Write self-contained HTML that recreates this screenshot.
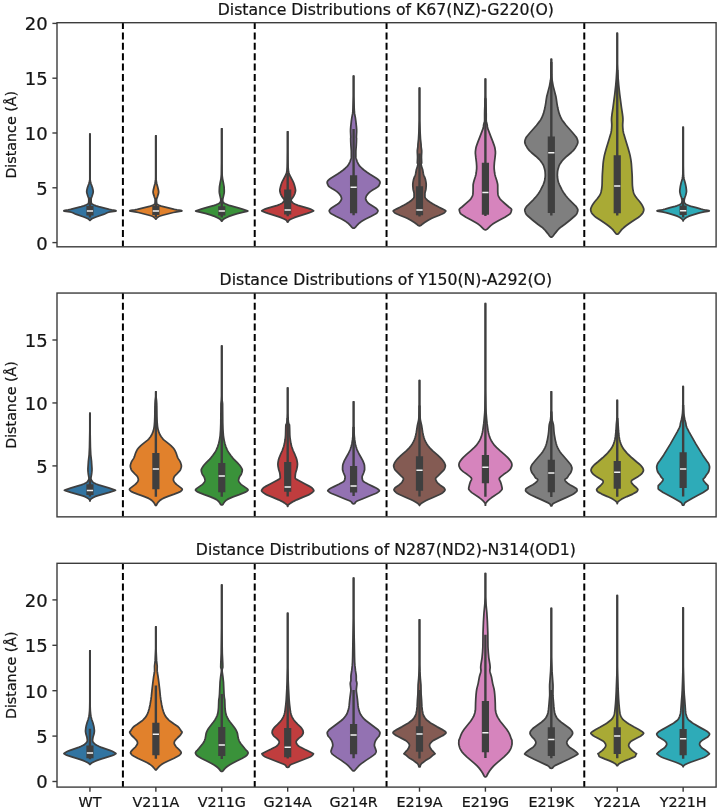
<!DOCTYPE html>
<html><head><meta charset="utf-8"><title>Distance Distributions</title>
<style>html,body{margin:0;padding:0;background:#fff}svg{display:block}text{stroke:#141414;stroke-width:.22px}</style></head>
<body>
<svg width="720" height="811" viewBox="0 0 720 811" font-family="'DejaVu Sans', 'Liberation Sans', sans-serif" fill="#141414">
<rect width="720" height="811" fill="#fff"/>
<g>
<clipPath id="c0"><rect x="57.0" y="22.7" width="659.10" height="224.10"/></clipPath>
<g clip-path="url(#c0)">
<line x1="89.95" x2="89.95" y1="133.30" y2="183.55" stroke="#3f3f3f" stroke-width="1.9"/>
<path d="M63.83,210.86 63.87,210.94 64.17,211.12 69.92,211.84 71.38,212.23 72.82,212.77 74.80,213.76 75.79,214.18 83.94,216.97 86.37,217.99 88.07,218.82 88.98,219.47 89.67,220.29 89.95,220.34 90.24,220.29 90.93,219.47 91.84,218.82 93.54,217.99 95.97,216.97 104.12,214.18 105.11,213.76 107.09,212.77 108.53,212.23 109.99,211.84 115.74,211.12 116.06,210.91 116.08,210.86 116.00,210.76 115.68,210.60 114.89,210.41 111.63,209.90 109.35,209.40 98.65,206.65 96.07,205.89 94.90,205.43 93.05,204.55 92.03,203.91 91.54,203.41 91.34,203.08 91.10,201.06 91.11,198.82 91.35,197.98 91.93,196.51 92.94,193.33 93.17,192.20 93.19,191.34 93.01,189.96 92.41,187.55 90.95,183.51 90.39,181.26 90.08,179.55 90.08,134.23 89.95,134.20 89.83,134.23 89.83,179.55 89.52,181.26 88.96,183.51 87.50,187.55 86.90,189.96 86.72,191.34 86.74,192.20 86.97,193.33 87.98,196.51 88.56,197.98 88.80,198.82 88.81,201.06 88.57,203.08 88.37,203.41 87.88,203.91 86.86,204.55 85.01,205.43 83.84,205.89 81.26,206.65 70.56,209.40 68.22,209.91 65.02,210.41 64.23,210.60 63.91,210.76Z" fill="#3274a1" stroke="#3f3f3f" stroke-width="1.75" stroke-linejoin="round"/>
<line x1="89.95" x2="89.95" y1="197.5" y2="217.5" stroke="#3f3f3f" stroke-width="2.4"/>
<line x1="89.95" x2="89.95" y1="205.9" y2="215.5" stroke="#3f3f3f" stroke-width="7.2"/>
<line x1="86.86" x2="93.05" y1="211.1" y2="211.1" stroke="#f4f4f4" stroke-width="1.5"/>
<line x1="155.87" x2="155.87" y1="135.10" y2="183.91" stroke="#3f3f3f" stroke-width="1.9"/>
<path d="M129.89,210.85 129.95,210.95 130.29,211.15 130.65,211.24 135.13,211.83 138.43,212.50 149.14,215.25 151.67,216.01 152.89,216.55 154.09,217.39 155.30,218.47 155.60,218.88 155.71,219.12 155.87,219.15 156.02,219.12 156.13,218.88 156.43,218.47 157.64,217.39 158.84,216.55 160.06,216.01 162.59,215.25 173.30,212.50 176.60,211.83 181.08,211.24 181.44,211.15 181.78,210.95 181.84,210.85 181.45,210.60 180.85,210.46 176.96,209.97 174.41,209.46 167.34,207.60 161.22,206.18 159.83,205.69 158.09,204.82 157.22,204.19 156.99,203.94 156.72,203.47 156.65,203.20 156.45,201.45 156.47,199.65 156.68,198.79 157.42,196.82 158.42,193.63 158.60,192.74 158.65,191.87 158.56,190.98 158.38,190.04 157.66,187.07 156.69,183.50 156.25,181.00 156.03,179.13 155.99,177.60 155.99,136.03 155.87,136.00 155.74,136.03 155.74,177.60 155.70,179.13 155.48,181.00 155.04,183.50 154.07,187.07 153.35,190.04 153.17,190.98 153.08,191.87 153.13,192.74 153.31,193.63 154.31,196.82 155.05,198.79 155.26,199.65 155.28,201.45 155.08,203.20 155.01,203.47 154.74,203.94 154.51,204.19 153.64,204.82 151.90,205.69 150.51,206.18 144.39,207.60 137.32,209.46 134.77,209.97 130.88,210.46 130.28,210.60Z" fill="#e1812c" stroke="#3f3f3f" stroke-width="1.75" stroke-linejoin="round"/>
<line x1="155.87" x2="155.87" y1="198" y2="217" stroke="#3f3f3f" stroke-width="2.4"/>
<line x1="155.87" x2="155.87" y1="205.8" y2="215.0" stroke="#3f3f3f" stroke-width="7.2"/>
<line x1="152.77" x2="158.97" y1="211.05" y2="211.05" stroke="#f4f4f4" stroke-width="1.5"/>
<line x1="221.77" x2="221.77" y1="128.00" y2="179.33" stroke="#3f3f3f" stroke-width="1.9"/>
<path d="M195.70,211.03 196.00,211.19 196.70,211.40 201.15,212.31 206.28,213.66 211.10,215.16 215.26,216.68 217.97,217.96 219.77,218.99 220.76,219.85 220.96,220.11 221.52,221.22 221.77,221.26 222.03,221.22 222.59,220.11 222.79,219.85 223.78,218.99 225.58,217.96 228.29,216.68 232.45,215.16 237.27,213.66 242.40,212.31 246.85,211.40 247.55,211.19 247.85,211.03 247.42,210.81 242.33,209.08 238.24,207.84 229.23,205.34 227.63,204.81 225.19,203.81 224.21,203.26 224.00,203.09 223.41,202.40 222.90,201.40 222.82,201.15 222.69,200.25 222.79,199.17 223.97,193.83 224.17,192.64 224.24,191.72 224.23,190.27 224.11,187.56 224.00,186.37 223.36,182.66 222.57,178.86 222.22,176.11 222.07,174.26 221.90,162.75 221.90,128.93 221.77,128.90 221.65,128.93 221.65,162.75 221.48,174.26 221.33,176.11 220.98,178.86 220.19,182.66 219.55,186.37 219.44,187.56 219.32,190.27 219.31,191.72 219.38,192.64 219.58,193.83 220.76,199.17 220.86,200.25 220.73,201.15 220.65,201.40 220.14,202.40 219.55,203.09 219.34,203.26 218.36,203.81 215.92,204.81 214.32,205.34 205.31,207.84 201.22,209.08 196.13,210.81Z" fill="#3a923a" stroke="#3f3f3f" stroke-width="1.75" stroke-linejoin="round"/>
<line x1="221.77" x2="221.77" y1="198" y2="217.5" stroke="#3f3f3f" stroke-width="2.4"/>
<line x1="221.77" x2="221.77" y1="206.3" y2="215.4" stroke="#3f3f3f" stroke-width="7.2"/>
<line x1="218.67" x2="224.87" y1="210.9" y2="210.9" stroke="#f4f4f4" stroke-width="1.5"/>
<line x1="287.69" x2="287.69" y1="131.00" y2="171.75" stroke="#3f3f3f" stroke-width="1.9"/>
<path d="M261.74,210.86 261.92,210.99 262.89,211.45 265.90,212.68 268.06,213.42 279.08,216.92 281.17,217.69 284.18,218.94 285.69,219.73 286.43,220.34 286.75,220.79 287.24,221.98 287.69,222.08 288.13,221.98 288.62,220.79 288.94,220.34 289.68,219.73 291.19,218.94 294.20,217.69 296.29,216.92 307.31,213.42 309.47,212.68 312.48,211.45 313.45,210.99 313.63,210.86 313.46,210.70 312.33,210.02 310.43,209.06 308.36,208.33 304.11,207.05 297.95,205.34 295.33,204.31 293.78,203.53 292.90,202.90 291.71,201.75 291.37,201.25 291.18,200.80 291.12,200.47 291.14,199.97 291.22,199.64 291.44,199.14 293.12,197.01 294.05,195.35 294.62,194.16 294.95,193.24 295.40,191.57 295.53,190.69 295.52,190.07 295.34,188.91 294.78,186.47 294.37,185.01 293.79,183.30 293.42,182.34 292.85,181.14 289.48,174.77 288.89,172.93 288.39,170.57 288.07,166.77 287.94,161.76 287.81,150.75 287.81,131.93 287.69,131.90 287.56,131.93 287.56,150.75 287.43,161.77 287.30,166.77 286.98,170.57 286.48,172.93 285.89,174.77 282.52,181.14 281.95,182.34 281.58,183.30 281.00,185.01 280.59,186.47 280.03,188.91 279.85,190.07 279.84,190.69 279.97,191.57 280.42,193.24 280.75,194.16 281.32,195.35 282.25,197.01 283.93,199.14 284.15,199.64 284.23,199.97 284.25,200.47 284.19,200.80 284.00,201.25 283.66,201.75 282.47,202.90 281.59,203.53 280.04,204.31 277.42,205.34 271.26,207.05 267.01,208.33 264.94,209.06 263.04,210.02 261.91,210.70Z" fill="#c03d3e" stroke="#3f3f3f" stroke-width="1.75" stroke-linejoin="round"/>
<line x1="287.69" x2="287.69" y1="172.7" y2="216.2" stroke="#3f3f3f" stroke-width="2.4"/>
<line x1="287.69" x2="287.69" y1="189.4" y2="214.6" stroke="#3f3f3f" stroke-width="7.2"/>
<line x1="284.58" x2="290.79" y1="209.9" y2="209.9" stroke="#f4f4f4" stroke-width="1.5"/>
<line x1="353.59" x2="353.59" y1="75.32" y2="112.32" stroke="#3f3f3f" stroke-width="1.9"/>
<path d="M353.16,228.21 354.03,228.21 354.16,228.10 354.64,227.89 355.03,227.63 355.46,227.23 356.27,226.22 358.65,223.72 359.80,222.68 360.94,221.83 362.97,220.56 365.61,219.06 370.76,216.54 375.39,214.06 376.13,213.60 376.68,213.18 377.01,212.80 377.43,212.15 377.84,211.29 377.95,210.69 377.89,210.41 377.54,209.85 376.44,208.63 375.72,208.03 369.83,204.31 368.74,203.53 368.10,202.98 366.77,201.37 366.08,200.29 365.73,199.36 365.68,199.09 365.66,198.34 365.70,198.08 366.08,196.74 366.39,195.99 366.74,195.38 367.88,193.95 369.37,192.45 370.65,191.39 372.14,190.35 373.93,189.25 375.28,188.57 376.76,187.60 377.72,186.89 378.46,186.23 378.93,185.61 379.58,184.24 379.94,183.13 380.03,182.37 379.88,181.62 379.59,181.08 379.02,180.44 377.42,179.01 376.03,178.05 369.57,174.06 366.97,172.29 363.91,169.98 361.89,168.23 360.48,166.92 359.78,166.17 359.13,165.36 357.87,163.27 357.02,161.34 356.10,158.50 355.92,157.66 355.84,156.82 355.85,150.82 356.28,145.27 356.44,141.54 356.51,138.19 356.38,137.87 356.36,137.31 356.63,131.80 356.62,129.35 356.42,126.65 355.83,121.18 355.34,117.71 354.58,113.73 354.36,111.94 354.17,108.35 353.72,96.10 353.72,76.25 353.59,76.22 353.47,76.25 353.47,96.10 353.02,108.35 352.83,111.94 352.61,113.73 351.85,117.71 351.36,121.18 350.77,126.65 350.57,129.35 350.56,131.80 350.83,137.31 350.81,137.87 350.68,138.19 350.75,141.54 350.91,145.27 351.34,150.82 351.35,156.82 351.27,157.66 351.09,158.50 350.17,161.34 349.32,163.27 348.06,165.36 347.41,166.17 346.71,166.92 345.30,168.23 343.28,169.98 340.22,172.29 337.62,174.06 331.16,178.05 329.77,179.01 328.17,180.44 327.60,181.08 327.31,181.62 327.16,182.37 327.25,183.13 327.61,184.24 328.26,185.61 328.73,186.23 329.47,186.89 330.43,187.60 331.91,188.57 333.26,189.25 335.05,190.35 336.54,191.39 337.82,192.45 339.31,193.95 340.45,195.38 340.80,195.99 341.11,196.74 341.49,198.08 341.53,198.34 341.51,199.09 341.46,199.36 341.11,200.29 340.42,201.37 339.09,202.98 338.45,203.53 337.36,204.31 331.47,208.03 330.75,208.63 329.65,209.85 329.30,210.41 329.24,210.69 329.35,211.29 329.76,212.15 330.18,212.80 330.51,213.18 331.06,213.60 331.80,214.06 336.43,216.54 341.58,219.06 344.22,220.56 346.30,221.87 347.39,222.68 348.54,223.72 350.92,226.22 351.73,227.23 352.16,227.63 352.55,227.89 353.03,228.10Z" fill="#9372b2" stroke="#3f3f3f" stroke-width="1.75" stroke-linejoin="round"/>
<line x1="353.59" x2="353.59" y1="128.9" y2="215.3" stroke="#3f3f3f" stroke-width="2.4"/>
<line x1="353.59" x2="353.59" y1="175.3" y2="213.3" stroke="#3f3f3f" stroke-width="7.2"/>
<line x1="350.49" x2="356.69" y1="187.2" y2="187.2" stroke="#f4f4f4" stroke-width="1.5"/>
<line x1="419.50" x2="419.50" y1="87.31" y2="136.06" stroke="#3f3f3f" stroke-width="1.9"/>
<path d="M393.18,210.83 393.22,211.02 393.39,211.35 393.68,211.75 394.75,212.88 395.38,213.30 396.86,214.01 400.31,215.50 405.44,217.49 407.65,218.55 410.83,220.32 414.45,222.57 416.43,223.95 417.98,225.35 418.31,225.54 418.77,225.72 419.50,225.90 420.24,225.72 420.70,225.54 421.03,225.35 422.58,223.95 424.56,222.57 428.18,220.32 431.36,218.55 433.57,217.49 438.70,215.50 442.15,214.01 443.63,213.30 444.26,212.88 445.33,211.75 445.62,211.35 445.79,211.02 445.83,210.83 445.45,210.55 442.24,208.84 438.62,207.08 434.84,205.08 432.59,203.80 429.83,202.05 428.05,200.77 426.37,199.20 425.31,197.97 425.05,197.47 424.91,197.01 424.91,193.41 425.11,192.32 425.66,190.35 425.86,189.43 426.16,186.26 426.19,184.11 425.96,182.20 425.42,179.53 424.79,177.61 424.29,176.37 423.89,175.59 423.70,175.02 423.32,173.47 422.58,169.53 421.42,166.09 421.12,164.59 421.13,163.84 421.22,163.61 421.67,163.15 421.44,157.57 421.47,156.01 421.66,152.53 421.67,150.85 421.59,149.91 421.15,146.94 421.04,144.13 420.48,139.11 420.13,132.85 419.63,120.60 419.63,88.24 419.50,88.21 419.38,88.24 419.38,120.60 418.88,132.85 418.53,139.11 417.97,144.13 417.86,146.94 417.42,149.91 417.34,150.85 417.35,152.53 417.54,156.01 417.57,157.57 417.34,163.15 417.79,163.61 417.88,163.84 417.89,164.59 417.59,166.09 416.43,169.53 415.69,173.47 415.31,175.02 415.12,175.59 414.72,176.37 414.22,177.61 413.59,179.53 413.05,182.20 412.82,184.11 412.85,186.26 413.15,189.43 413.35,190.35 413.90,192.32 414.10,193.41 414.10,197.01 413.96,197.47 413.70,197.97 412.64,199.20 410.96,200.77 409.18,202.05 406.42,203.80 404.17,205.08 400.39,207.08 396.77,208.84 393.56,210.55Z" fill="#845b53" stroke="#3f3f3f" stroke-width="1.75" stroke-linejoin="round"/>
<line x1="419.50" x2="419.50" y1="153.5" y2="216.6" stroke="#3f3f3f" stroke-width="2.4"/>
<line x1="419.50" x2="419.50" y1="186.3" y2="215.3" stroke="#3f3f3f" stroke-width="7.2"/>
<line x1="416.40" x2="422.61" y1="210.1" y2="210.1" stroke="#f4f4f4" stroke-width="1.5"/>
<line x1="485.41" x2="485.41" y1="78.30" y2="111.80" stroke="#3f3f3f" stroke-width="1.9"/>
<path d="M485.41,79.20 485.29,79.23 485.29,95.80 484.70,110.32 484.63,114.80 484.66,120.04 484.60,120.86 484.39,122.02 483.69,124.72 483.56,125.62 483.53,126.74 483.22,128.11 479.80,137.11 478.02,141.61 476.77,145.08 476.08,147.26 475.73,149.18 475.42,151.61 475.40,153.51 475.83,157.70 476.43,162.49 476.69,166.24 476.66,168.89 476.23,172.76 475.93,174.46 475.24,177.03 474.26,180.05 473.70,182.02 473.20,184.18 473.11,185.34 473.08,191.35 472.97,193.35 472.82,194.65 472.48,195.81 471.84,197.17 470.93,198.74 470.18,199.67 469.14,200.70 466.03,203.47 461.93,206.97 459.75,208.68 459.31,209.22 459.25,209.43 459.28,209.95 459.44,210.85 459.71,211.77 460.14,212.90 460.51,213.49 461.19,214.12 462.51,215.08 465.97,217.29 471.64,220.29 475.63,222.54 477.71,223.80 479.16,224.84 480.39,225.88 482.64,228.04 483.67,229.14 483.90,229.30 484.73,229.73 485.41,229.90 486.10,229.73 486.93,229.30 487.16,229.14 488.19,228.04 490.44,225.88 491.67,224.84 493.12,223.80 495.20,222.54 499.19,220.29 504.86,217.29 508.32,215.08 509.64,214.12 510.32,213.49 510.69,212.90 511.12,211.77 511.39,210.85 511.55,209.95 511.58,209.43 511.52,209.22 511.08,208.68 508.90,206.97 504.80,203.47 501.69,200.70 500.65,199.67 499.90,198.74 498.99,197.17 498.35,195.81 498.01,194.65 497.86,193.35 497.75,191.35 497.72,185.34 497.63,184.18 497.13,182.02 496.57,180.05 495.59,177.03 494.90,174.46 494.60,172.76 494.17,168.89 494.14,166.24 494.40,162.49 495.00,157.70 495.43,153.51 495.41,151.61 495.10,149.18 494.75,147.26 494.06,145.08 492.81,141.61 491.03,137.11 487.61,128.11 487.30,126.74 487.27,125.62 487.14,124.72 486.44,122.02 486.23,120.86 486.17,120.04 486.20,114.80 486.13,110.32 485.54,95.80 485.54,79.23Z" fill="#d684bd" stroke="#3f3f3f" stroke-width="1.75" stroke-linejoin="round"/>
<line x1="485.41" x2="485.41" y1="98.3" y2="215.9" stroke="#3f3f3f" stroke-width="2.4"/>
<line x1="485.41" x2="485.41" y1="162.7" y2="214.7" stroke="#3f3f3f" stroke-width="7.2"/>
<line x1="482.31" x2="488.51" y1="192.5" y2="192.5" stroke="#f4f4f4" stroke-width="1.5"/>
<line x1="551.33" x2="551.33" y1="58.40" y2="80.90" stroke="#3f3f3f" stroke-width="1.9"/>
<path d="M550.99,237.09 551.33,237.12 551.66,237.09 551.85,236.91 552.56,236.46 552.99,236.05 553.57,235.36 554.82,233.60 557.02,230.85 558.18,229.53 559.51,228.22 561.09,226.94 564.84,224.20 568.63,221.22 570.45,219.73 575.35,215.52 576.22,214.60 576.66,213.97 577.16,212.83 577.58,211.65 577.74,210.98 577.85,209.95 577.80,209.62 577.48,208.78 576.36,206.89 575.84,206.21 575.19,205.51 569.15,199.52 567.50,197.74 565.83,195.70 564.29,193.63 563.17,191.94 562.10,190.09 559.36,184.54 558.42,182.23 558.06,180.85 557.62,178.30 557.41,176.43 557.35,174.85 557.52,171.85 557.73,170.46 558.08,168.90 558.99,165.90 559.50,164.78 560.15,163.66 561.03,162.38 562.22,160.78 563.51,159.32 566.81,156.23 571.27,152.50 573.20,150.55 574.49,149.10 575.49,147.69 577.18,144.54 577.69,143.16 577.81,142.53 577.85,142.01 577.76,141.05 577.47,139.90 576.88,138.25 576.42,137.36 575.56,136.19 572.66,132.72 566.05,125.23 563.11,121.39 561.92,119.64 560.99,118.00 559.98,115.70 559.15,113.39 558.34,110.59 557.63,107.30 557.00,103.80 556.29,98.79 555.94,96.84 553.11,85.87 552.10,80.27 551.74,77.52 551.55,74.91 551.45,66.01 551.45,59.33 551.33,59.30 551.20,59.33 551.20,66.01 551.10,74.91 550.91,77.52 550.55,80.27 549.54,85.87 546.71,96.84 546.36,98.79 545.65,103.80 545.02,107.30 544.31,110.59 543.50,113.39 542.67,115.70 541.66,118.00 540.73,119.64 539.54,121.39 536.60,125.23 529.99,132.72 527.09,136.19 526.23,137.36 525.77,138.25 525.18,139.90 524.89,141.05 524.80,142.01 524.84,142.53 524.96,143.16 525.47,144.54 527.16,147.69 528.16,149.10 529.45,150.55 531.38,152.50 535.84,156.23 539.09,159.26 540.43,160.78 541.62,162.38 542.53,163.71 543.11,164.71 543.62,165.78 544.59,168.96 544.92,170.46 545.12,171.77 545.30,174.93 545.24,176.50 545.04,178.25 544.59,180.85 544.26,182.12 543.29,184.54 540.55,190.09 539.48,191.94 538.34,193.67 536.82,195.70 535.18,197.70 533.50,199.52 527.46,205.51 526.81,206.21 526.29,206.89 525.17,208.78 524.85,209.62 524.81,210.33 524.91,210.98 525.07,211.65 525.49,212.83 525.99,213.97 526.43,214.60 527.30,215.52 532.20,219.73 534.02,221.22 537.81,224.20 541.56,226.94 543.21,228.28 544.47,229.53 545.63,230.85 547.83,233.60 549.08,235.36 549.66,236.05 550.09,236.46 550.80,236.91Z" fill="#7f7f7f" stroke="#3f3f3f" stroke-width="1.75" stroke-linejoin="round"/>
<line x1="551.33" x2="551.33" y1="62" y2="215.4" stroke="#3f3f3f" stroke-width="2.4"/>
<line x1="551.33" x2="551.33" y1="136.6" y2="213.0" stroke="#3f3f3f" stroke-width="7.2"/>
<line x1="548.23" x2="554.43" y1="152.7" y2="152.7" stroke="#f4f4f4" stroke-width="1.5"/>
<line x1="617.24" x2="617.24" y1="32.46" y2="76.96" stroke="#3f3f3f" stroke-width="1.9"/>
<path d="M617.24,33.36 617.11,33.39 617.11,63.71 616.74,71.76 616.33,78.51 615.78,85.03 614.72,94.56 613.04,107.32 612.05,113.83 611.69,116.79 611.57,118.50 611.53,120.19 611.78,124.16 611.79,125.71 611.66,128.05 611.36,130.88 611.11,132.18 610.71,133.70 609.10,139.22 606.28,148.46 605.16,152.43 604.36,155.65 603.71,159.11 603.34,161.57 603.09,163.79 602.40,174.01 602.28,176.49 602.15,183.23 602.03,185.75 601.66,189.06 601.11,191.70 600.75,192.95 600.41,193.85 599.87,194.92 599.10,196.17 597.46,198.53 594.70,201.75 593.27,203.71 592.35,205.15 591.50,206.83 591.01,207.99 590.79,208.84 590.68,209.68 590.74,210.31 590.90,210.95 591.41,212.36 591.75,213.01 592.21,213.68 592.79,214.37 594.52,216.07 595.31,216.79 596.21,217.49 600.51,220.22 603.86,222.49 606.37,224.24 608.72,226.03 610.85,227.78 612.59,229.43 613.45,230.43 616.03,233.78 616.55,234.12 617.24,234.22 617.92,234.12 618.44,233.78 621.02,230.43 621.88,229.43 623.62,227.78 625.75,226.03 628.10,224.24 630.61,222.49 633.96,220.22 638.26,217.49 639.16,216.79 639.95,216.07 641.68,214.37 642.26,213.68 642.72,213.01 643.06,212.36 643.57,210.95 643.73,210.31 643.79,209.68 643.68,208.84 643.46,207.99 642.97,206.83 642.12,205.15 641.20,203.71 639.77,201.75 637.01,198.53 635.37,196.17 634.60,194.92 634.06,193.85 633.72,192.95 633.36,191.70 632.81,189.06 632.44,185.75 632.32,183.23 632.19,176.49 632.07,174.01 631.38,163.79 631.13,161.57 630.76,159.11 630.11,155.65 629.31,152.43 628.19,148.46 625.37,139.22 623.76,133.70 623.36,132.18 623.11,130.88 622.81,128.05 622.68,125.71 622.69,124.16 622.94,120.19 622.90,118.50 622.78,116.79 622.42,113.83 621.43,107.32 619.75,94.56 618.69,85.03 618.14,78.51 617.73,71.76 617.36,63.71 617.36,33.39Z" fill="#a9aa35" stroke="#3f3f3f" stroke-width="1.75" stroke-linejoin="round"/>
<line x1="617.24" x2="617.24" y1="70" y2="215.5" stroke="#3f3f3f" stroke-width="2.4"/>
<line x1="617.24" x2="617.24" y1="155.3" y2="213.3" stroke="#3f3f3f" stroke-width="7.2"/>
<line x1="614.13" x2="620.34" y1="186.1" y2="186.1" stroke="#f4f4f4" stroke-width="1.5"/>
<line x1="683.14" x2="683.14" y1="126.50" y2="179.25" stroke="#3f3f3f" stroke-width="1.9"/>
<path d="M683.14,127.40 683.02,127.43 683.02,166.00 682.84,174.52 682.63,176.63 682.28,178.88 681.16,182.72 680.40,186.16 679.96,189.10 679.81,190.79 679.81,191.45 679.91,192.36 680.42,194.61 680.68,195.46 681.54,197.69 681.99,199.55 682.18,201.10 682.09,201.85 682.02,202.12 681.71,202.74 681.32,203.31 680.90,203.81 680.42,204.20 678.79,205.03 676.80,205.81 675.04,206.35 670.09,207.59 665.08,209.09 663.12,209.60 661.73,209.91 658.59,210.36 657.44,210.59 657.15,210.73 657.02,210.87 657.15,211.01 657.46,211.16 658.78,211.38 662.25,211.85 665.87,212.66 668.59,213.41 674.26,215.16 676.54,215.93 677.82,216.43 679.00,216.99 679.93,217.53 681.39,218.53 682.31,219.35 682.82,219.94 683.00,220.30 683.02,220.97 683.14,220.99 683.27,220.97 683.29,220.30 683.47,219.94 683.98,219.35 684.90,218.53 686.36,217.53 687.29,216.99 688.47,216.43 689.75,215.93 692.03,215.16 697.70,213.41 700.42,212.66 704.04,211.85 707.51,211.38 708.83,211.16 709.14,211.01 709.27,210.87 709.14,210.73 708.85,210.59 707.70,210.36 704.56,209.91 703.17,209.60 701.21,209.09 696.20,207.59 691.25,206.35 689.49,205.81 687.50,205.03 685.87,204.20 685.39,203.81 684.97,203.31 684.58,202.74 684.27,202.12 684.20,201.85 684.11,201.10 684.30,199.55 684.75,197.69 685.61,195.46 685.87,194.61 686.38,192.36 686.48,191.45 686.48,190.79 686.33,189.10 685.89,186.16 685.13,182.72 684.01,178.88 683.66,176.63 683.45,174.52 683.27,166.00 683.27,127.43Z" fill="#2eabb8" stroke="#3f3f3f" stroke-width="1.75" stroke-linejoin="round"/>
<line x1="683.14" x2="683.14" y1="198" y2="217.5" stroke="#3f3f3f" stroke-width="2.4"/>
<line x1="683.14" x2="683.14" y1="205.6" y2="215.0" stroke="#3f3f3f" stroke-width="7.2"/>
<line x1="680.04" x2="686.25" y1="210.7" y2="210.7" stroke="#f4f4f4" stroke-width="1.5"/>
<line x1="122.91" x2="122.91" y1="22.00" y2="246.8" stroke="#000" stroke-width="2" stroke-dasharray="7 3.4"/>
<line x1="254.73" x2="254.73" y1="22.00" y2="246.8" stroke="#000" stroke-width="2" stroke-dasharray="7 3.4"/>
<line x1="386.55" x2="386.55" y1="22.00" y2="246.8" stroke="#000" stroke-width="2" stroke-dasharray="7 3.4"/>
<line x1="584.28" x2="584.28" y1="22.00" y2="246.8" stroke="#000" stroke-width="2" stroke-dasharray="7 3.4"/>
</g>
<rect x="57.0" y="22.7" width="659.10" height="224.10" fill="none" stroke="#3c3c3c" stroke-width="1.4"/>
<line x1="52.4" x2="57.0" y1="242.60" y2="242.60" stroke="#3c3c3c" stroke-width="1.4"/>
<text x="47.7" y="249.50" font-size="18" text-anchor="end">0</text>
<line x1="52.4" x2="57.0" y1="187.80" y2="187.80" stroke="#3c3c3c" stroke-width="1.4"/>
<text x="47.7" y="194.70" font-size="18" text-anchor="end">5</text>
<line x1="52.4" x2="57.0" y1="133.00" y2="133.00" stroke="#3c3c3c" stroke-width="1.4"/>
<text x="47.7" y="139.90" font-size="18" text-anchor="end">10</text>
<line x1="52.4" x2="57.0" y1="78.20" y2="78.20" stroke="#3c3c3c" stroke-width="1.4"/>
<text x="47.7" y="85.10" font-size="18" text-anchor="end">15</text>
<line x1="52.4" x2="57.0" y1="23.40" y2="23.40" stroke="#3c3c3c" stroke-width="1.4"/>
<text x="47.7" y="30.30" font-size="18" text-anchor="end">20</text>
<text x="385.85" y="14.60" font-size="15.7" text-anchor="middle">Distance Distributions of K67(NZ)-G220(O)</text>
<text transform="translate(16.2,134.75) rotate(-90)" font-size="14.25" text-anchor="middle">Distance (Å)</text>
</g>
<g>
<clipPath id="c1"><rect x="57.0" y="293.05" width="659.10" height="223.80"/></clipPath>
<g clip-path="url(#c1)">
<line x1="89.95" x2="89.95" y1="412.50" y2="454.50" stroke="#3f3f3f" stroke-width="1.9"/>
<path d="M64.42,490.31 65.33,490.68 70.70,492.41 82.04,495.66 83.64,496.17 84.98,496.68 87.03,497.72 88.75,498.87 89.68,499.80 89.78,500.01 89.81,500.24 89.82,500.91 89.95,500.91 90.09,500.91 90.10,500.24 90.13,500.01 90.23,499.80 91.16,498.87 92.88,497.72 94.93,496.68 96.27,496.17 97.87,495.66 109.21,492.41 114.58,490.68 115.49,490.31 114.97,490.05 113.69,489.57 108.64,487.83 98.50,484.84 96.23,484.04 94.17,483.04 92.97,482.22 92.77,482.04 91.80,480.79 91.11,479.45 90.94,478.70 90.93,477.73 91.50,474.62 91.81,472.16 91.97,470.21 91.97,468.53 91.48,461.08 90.76,454.79 90.39,447.29 90.08,430.50 90.08,413.43 89.95,413.40 89.83,413.43 89.83,430.50 89.52,447.29 89.15,454.79 88.43,461.08 87.94,468.53 87.94,470.21 88.10,472.16 88.41,474.62 88.98,477.73 88.97,478.70 88.80,479.45 88.11,480.79 87.14,482.04 86.94,482.22 85.74,483.04 83.68,484.04 81.41,484.84 71.27,487.83 66.22,489.57 64.94,490.05Z" fill="#3274a1" stroke="#3f3f3f" stroke-width="1.75" stroke-linejoin="round"/>
<line x1="89.95" x2="89.95" y1="479.3" y2="496.6" stroke="#3f3f3f" stroke-width="2.4"/>
<line x1="89.95" x2="89.95" y1="484.2" y2="495.1" stroke="#3f3f3f" stroke-width="7.2"/>
<line x1="86.86" x2="93.05" y1="490.4" y2="490.4" stroke="#f4f4f4" stroke-width="1.5"/>
<line x1="155.87" x2="155.87" y1="390.95" y2="402.70" stroke="#3f3f3f" stroke-width="1.9"/>
<path d="M155.54,505.44 155.87,505.51 156.19,505.44 156.48,505.02 156.85,504.21 157.60,502.99 158.27,502.09 158.96,501.32 159.75,500.57 161.59,499.18 163.05,498.40 165.42,497.39 168.62,496.13 174.24,494.13 178.08,492.64 179.74,491.92 180.49,491.49 181.78,490.35 182.18,489.81 182.23,489.65 182.09,488.98 181.82,488.58 181.31,488.13 176.73,484.65 175.47,483.49 174.49,482.24 173.95,481.44 173.54,480.56 173.40,479.84 173.43,479.13 173.64,478.24 174.17,476.88 174.55,476.24 175.34,475.32 176.88,473.83 179.45,471.13 180.16,470.23 180.48,469.61 181.19,467.48 181.35,466.60 181.39,465.96 181.34,465.32 181.15,464.43 180.34,462.04 179.87,461.14 178.41,458.86 177.70,457.54 177.25,456.46 176.38,453.74 175.82,452.30 174.91,450.36 174.06,448.96 172.89,447.54 170.93,445.60 169.49,444.38 164.44,440.35 163.55,439.54 162.63,438.54 161.20,436.75 160.15,435.08 159.15,432.99 158.42,430.90 157.93,428.86 157.56,426.80 157.36,425.02 157.11,421.77 156.91,416.71 156.71,403.74 156.49,400.53 156.00,396.56 155.99,391.88 155.87,391.85 155.74,391.88 155.73,396.56 155.24,400.53 155.02,403.74 154.82,416.71 154.62,421.77 154.37,425.02 154.17,426.80 153.80,428.86 153.31,430.90 152.58,432.99 151.58,435.08 150.53,436.75 149.10,438.54 148.18,439.54 147.29,440.35 142.24,444.38 140.80,445.60 138.84,447.54 137.67,448.96 136.82,450.36 135.91,452.30 135.35,453.74 134.48,456.46 134.03,457.54 133.32,458.86 131.86,461.14 131.39,462.04 130.58,464.43 130.39,465.32 130.34,465.96 130.38,466.60 130.54,467.48 131.25,469.61 131.57,470.23 132.28,471.13 134.85,473.83 136.39,475.32 137.18,476.24 137.56,476.88 138.09,478.24 138.30,479.13 138.33,479.84 138.19,480.56 137.78,481.44 137.24,482.24 136.26,483.49 135.00,484.65 130.42,488.13 129.91,488.58 129.64,488.98 129.50,489.65 129.55,489.81 129.95,490.35 131.24,491.49 131.99,491.92 133.65,492.64 137.49,494.13 143.11,496.13 146.31,497.39 148.68,498.40 150.14,499.18 151.98,500.57 152.77,501.32 153.46,502.09 154.13,502.99 154.88,504.21 155.25,505.02Z" fill="#e1812c" stroke="#3f3f3f" stroke-width="1.75" stroke-linejoin="round"/>
<line x1="155.87" x2="155.87" y1="406" y2="496.7" stroke="#3f3f3f" stroke-width="2.4"/>
<line x1="155.87" x2="155.87" y1="453.0" y2="489.3" stroke="#3f3f3f" stroke-width="7.2"/>
<line x1="152.77" x2="158.97" y1="469.0" y2="469.0" stroke="#f4f4f4" stroke-width="1.5"/>
<line x1="221.77" x2="221.77" y1="345.20" y2="404.20" stroke="#3f3f3f" stroke-width="1.9"/>
<path d="M195.48,489.96 195.56,490.15 196.19,490.81 197.00,491.47 198.24,492.16 199.94,492.89 204.37,494.63 210.55,496.90 214.01,498.40 216.09,499.41 217.53,500.38 218.75,501.58 219.96,503.17 220.50,504.25 220.74,504.58 221.11,504.85 221.77,504.92 222.44,504.85 222.81,504.58 223.05,504.25 223.59,503.17 224.80,501.58 226.02,500.38 227.46,499.41 229.54,498.40 233.00,496.90 239.18,494.63 243.61,492.89 245.31,492.16 246.55,491.47 247.36,490.81 247.99,490.15 248.07,489.96 247.62,489.21 247.28,488.84 246.74,488.40 241.35,484.59 240.75,484.02 239.88,483.02 239.27,482.24 238.91,481.65 238.66,481.00 238.60,480.73 238.60,479.79 238.76,478.94 239.14,477.69 239.70,476.56 240.95,474.73 241.32,474.09 241.93,472.21 242.15,471.29 242.27,470.39 242.27,469.80 242.14,469.23 241.86,468.59 241.46,467.90 240.39,466.19 239.70,465.25 237.05,462.31 234.01,459.33 232.84,458.04 230.79,455.45 228.48,452.14 227.85,451.07 226.98,449.35 225.80,446.54 224.85,443.46 224.14,440.35 223.66,437.60 223.35,435.32 222.95,429.51 222.74,422.96 222.56,403.99 222.48,403.05 222.09,400.24 221.90,395.99 221.90,346.13 221.77,346.10 221.65,346.13 221.65,395.99 221.46,400.24 221.07,403.05 220.99,403.99 220.81,422.96 220.60,429.51 220.20,435.32 219.89,437.60 219.41,440.35 218.70,443.46 217.75,446.54 216.57,449.35 215.70,451.07 215.07,452.14 212.76,455.45 210.71,458.04 209.54,459.33 206.50,462.31 203.85,465.25 203.16,466.19 202.09,467.90 201.69,468.59 201.41,469.23 201.28,469.80 201.28,470.39 201.40,471.29 201.62,472.21 202.23,474.09 202.60,474.73 203.85,476.56 204.41,477.69 204.79,478.94 204.95,479.79 204.95,480.73 204.89,481.00 204.64,481.65 204.28,482.24 203.67,483.02 202.80,484.02 202.20,484.59 196.81,488.40 196.27,488.84 195.93,489.21Z" fill="#3a923a" stroke="#3f3f3f" stroke-width="1.75" stroke-linejoin="round"/>
<line x1="221.77" x2="221.77" y1="419" y2="496.7" stroke="#3f3f3f" stroke-width="2.4"/>
<line x1="221.77" x2="221.77" y1="463.0" y2="492.3" stroke="#3f3f3f" stroke-width="7.2"/>
<line x1="218.67" x2="224.87" y1="476.0" y2="476.0" stroke="#f4f4f4" stroke-width="1.5"/>
<line x1="287.69" x2="287.69" y1="387.13" y2="423.63" stroke="#3f3f3f" stroke-width="1.9"/>
<path d="M287.69,388.03 287.56,388.06 287.56,413.13 287.35,417.92 286.98,422.40 286.69,423.27 286.00,424.68 285.89,425.12 285.77,427.66 285.57,435.07 285.40,437.23 285.10,439.73 284.49,443.52 283.81,446.16 282.32,450.49 280.43,454.72 278.96,458.41 278.55,459.84 278.17,461.78 277.96,463.21 277.91,464.60 278.07,466.25 278.63,469.16 279.57,472.11 279.83,473.17 280.15,475.84 280.24,477.63 280.21,477.91 280.07,478.30 279.75,478.70 278.79,479.36 276.70,480.41 270.23,483.90 265.27,486.64 264.11,487.36 263.50,487.80 263.05,488.22 262.14,489.37 261.67,490.20 261.57,490.66 261.64,490.93 262.09,491.54 263.10,492.45 265.02,493.89 265.86,494.35 267.45,495.08 272.35,497.08 278.68,499.83 281.79,501.34 284.43,502.87 286.27,504.16 286.92,504.76 287.38,505.35 287.51,505.60 287.56,506.41 287.69,506.43 287.81,506.41 287.86,505.60 287.99,505.35 288.45,504.76 289.10,504.16 290.94,502.87 293.58,501.34 296.69,499.83 303.02,497.08 307.92,495.08 309.51,494.35 310.35,493.89 312.27,492.45 313.28,491.54 313.73,490.93 313.80,490.66 313.70,490.20 313.23,489.37 312.32,488.22 311.87,487.80 311.26,487.36 310.10,486.64 305.14,483.90 298.67,480.41 296.58,479.36 295.62,478.70 295.30,478.30 295.16,477.91 295.13,477.63 295.22,475.84 295.54,473.17 295.80,472.11 296.74,469.16 297.30,466.25 297.46,464.60 297.41,463.21 297.20,461.78 296.82,459.84 296.41,458.41 294.94,454.72 293.05,450.49 291.56,446.16 290.88,443.52 290.27,439.73 289.97,437.23 289.80,435.07 289.60,427.66 289.48,425.12 289.37,424.68 288.68,423.27 288.39,422.40 288.02,417.92 287.81,413.13 287.81,388.06Z" fill="#c03d3e" stroke="#3f3f3f" stroke-width="1.75" stroke-linejoin="round"/>
<line x1="287.69" x2="287.69" y1="418" y2="496.6" stroke="#3f3f3f" stroke-width="2.4"/>
<line x1="287.69" x2="287.69" y1="462.0" y2="491.8" stroke="#3f3f3f" stroke-width="7.2"/>
<line x1="284.58" x2="290.79" y1="487.0" y2="487.0" stroke="#f4f4f4" stroke-width="1.5"/>
<line x1="353.59" x2="353.59" y1="401.06" y2="437.56" stroke="#3f3f3f" stroke-width="1.9"/>
<path d="M353.59,401.96 353.47,401.99 353.47,425.35 353.18,431.85 352.90,436.12 352.53,439.65 352.00,443.19 351.66,444.79 351.18,446.57 350.48,448.82 349.99,450.12 348.28,453.75 346.27,457.24 344.28,460.93 343.14,463.84 342.87,464.77 342.75,465.42 342.59,467.84 342.60,469.72 342.78,470.58 343.49,472.74 344.63,475.28 344.97,476.28 345.07,476.93 345.06,477.93 344.93,478.77 344.66,479.83 344.38,480.60 343.95,481.22 343.28,481.79 342.51,482.29 338.79,484.33 334.47,486.35 331.06,488.08 329.80,488.80 329.17,489.24 328.18,490.16 327.84,490.56 327.79,490.68 327.84,490.81 328.38,491.43 329.82,492.58 330.61,493.03 331.65,493.50 335.42,495.00 345.00,499.00 349.47,500.78 350.57,501.34 351.35,501.90 351.74,502.34 352.30,503.24 352.63,503.53 352.91,503.71 353.59,503.79 354.28,503.71 354.56,503.53 354.89,503.24 355.45,502.34 355.84,501.90 356.62,501.34 357.72,500.78 362.19,499.00 371.77,495.00 375.54,493.50 376.58,493.03 377.37,492.58 378.81,491.43 379.35,490.81 379.40,490.68 379.35,490.56 379.01,490.16 378.02,489.24 377.39,488.80 376.13,488.08 372.72,486.35 368.40,484.33 364.68,482.29 363.91,481.79 363.24,481.22 362.81,480.60 362.53,479.83 362.26,478.77 362.13,477.93 362.12,476.93 362.22,476.28 362.56,475.28 363.70,472.74 364.41,470.58 364.59,469.72 364.60,467.84 364.44,465.42 364.32,464.77 364.05,463.84 362.91,460.93 360.92,457.24 358.91,453.75 357.20,450.12 356.71,448.82 356.01,446.57 355.53,444.79 355.19,443.19 354.66,439.65 354.29,436.12 354.01,431.85 353.72,425.35 353.72,401.99Z" fill="#9372b2" stroke="#3f3f3f" stroke-width="1.75" stroke-linejoin="round"/>
<line x1="353.59" x2="353.59" y1="427" y2="496.0" stroke="#3f3f3f" stroke-width="2.4"/>
<line x1="353.59" x2="353.59" y1="466.1" y2="492.4" stroke="#3f3f3f" stroke-width="7.2"/>
<line x1="350.49" x2="356.69" y1="485.9" y2="485.9" stroke="#f4f4f4" stroke-width="1.5"/>
<line x1="419.50" x2="419.50" y1="379.73" y2="419.92" stroke="#3f3f3f" stroke-width="1.9"/>
<path d="M419.50,380.63 419.38,380.66 419.38,410.23 419.16,414.28 418.91,417.55 418.73,419.32 418.56,420.37 417.41,425.39 416.38,432.16 415.74,435.16 415.04,437.71 414.33,439.77 413.47,441.65 412.22,443.90 410.97,445.79 409.24,447.84 406.57,450.59 401.62,454.88 398.73,457.60 397.35,459.05 395.63,461.24 394.73,462.64 393.83,464.76 393.69,465.37 393.66,465.66 393.76,466.57 393.99,467.46 394.64,469.11 394.97,469.73 395.75,470.63 401.00,475.85 402.64,477.33 403.13,477.95 403.27,478.22 403.46,478.94 403.28,479.92 402.73,481.11 402.09,482.06 401.19,483.06 399.13,484.96 395.76,487.18 395.26,487.61 395.03,487.87 394.29,488.93 394.09,489.33 393.97,489.67 393.97,489.99 394.20,490.51 394.92,491.38 396.18,492.58 396.73,493.01 397.45,493.47 399.39,494.44 406.07,497.43 410.73,499.44 413.39,500.72 415.99,502.22 417.59,503.29 418.29,503.84 419.10,504.59 419.25,504.77 419.35,504.99 419.38,505.51 419.50,505.53 419.63,505.51 419.66,504.99 419.76,504.77 419.91,504.59 420.72,503.84 421.42,503.29 423.02,502.22 425.62,500.72 428.28,499.44 432.94,497.43 439.62,494.44 441.56,493.47 442.28,493.01 442.83,492.58 444.09,491.38 444.81,490.51 445.04,489.99 445.04,489.67 444.92,489.33 444.72,488.93 443.98,487.87 443.75,487.61 443.25,487.18 439.88,484.96 437.82,483.06 436.92,482.06 436.28,481.11 435.73,479.92 435.55,478.94 435.74,478.22 435.88,477.95 436.37,477.33 438.01,475.85 443.26,470.63 444.04,469.73 444.37,469.11 445.02,467.46 445.25,466.57 445.35,465.66 445.32,465.37 445.18,464.76 444.28,462.64 443.38,461.24 441.66,459.05 440.28,457.60 437.39,454.88 432.44,450.59 429.77,447.84 428.04,445.79 426.79,443.90 425.54,441.65 424.68,439.77 423.97,437.71 423.27,435.16 422.63,432.16 421.60,425.39 420.45,420.37 420.28,419.32 420.10,417.55 419.85,414.28 419.63,410.23 419.63,380.66Z" fill="#845b53" stroke="#3f3f3f" stroke-width="1.75" stroke-linejoin="round"/>
<line x1="419.50" x2="419.50" y1="405.5" y2="496.6" stroke="#3f3f3f" stroke-width="2.4"/>
<line x1="419.50" x2="419.50" y1="456.3" y2="490.7" stroke="#3f3f3f" stroke-width="7.2"/>
<line x1="416.40" x2="422.61" y1="470.2" y2="470.2" stroke="#f4f4f4" stroke-width="1.5"/>
<line x1="485.41" x2="485.41" y1="302.80" y2="414.80" stroke="#3f3f3f" stroke-width="1.9"/>
<path d="M485.41,303.70 485.29,303.73 485.29,389.80 484.97,407.57 484.75,412.87 484.23,419.14 483.76,423.67 482.82,430.42 482.43,432.47 482.00,434.26 481.45,436.09 480.82,437.88 480.29,439.19 479.67,440.44 478.04,443.07 476.30,445.40 474.38,447.44 470.59,450.96 466.25,454.70 463.31,457.42 461.93,458.87 460.32,461.03 459.50,462.43 459.26,463.06 459.09,463.74 458.96,464.42 458.91,464.98 459.02,465.86 459.38,466.98 460.14,468.60 460.79,469.47 461.77,470.40 463.50,471.85 467.07,474.33 470.01,476.61 471.00,477.57 471.33,478.07 471.45,478.35 471.58,478.98 471.46,479.71 471.37,479.96 470.46,481.66 470.12,482.58 469.52,484.53 468.83,487.46 468.71,488.36 468.70,488.93 468.78,489.21 469.12,489.81 469.67,490.48 471.01,491.92 471.81,492.60 479.48,497.83 480.86,498.89 482.62,500.44 484.09,501.94 485.05,503.30 485.25,503.79 485.29,504.05 485.29,505.23 485.41,505.23 485.54,505.23 485.54,504.05 485.58,503.79 485.78,503.30 486.74,501.94 488.21,500.44 489.97,498.89 491.35,497.83 499.02,492.60 499.82,491.92 501.16,490.48 501.71,489.81 502.05,489.21 502.13,488.93 502.12,488.36 502.00,487.46 501.31,484.53 500.71,482.58 500.37,481.66 499.46,479.96 499.37,479.71 499.25,478.98 499.38,478.35 499.50,478.07 499.83,477.57 500.82,476.61 503.76,474.33 507.33,471.85 509.06,470.40 510.04,469.47 510.69,468.60 511.45,466.98 511.81,465.86 511.92,464.98 511.87,464.42 511.74,463.74 511.57,463.06 511.33,462.43 510.51,461.03 508.90,458.87 507.52,457.42 504.58,454.70 500.24,450.96 496.45,447.44 494.53,445.40 492.79,443.07 491.16,440.44 490.54,439.19 490.01,437.88 489.38,436.09 488.83,434.26 488.40,432.47 488.01,430.42 487.07,423.67 486.60,419.14 486.08,412.87 485.86,407.57 485.54,389.80 485.54,303.73Z" fill="#d684bd" stroke="#3f3f3f" stroke-width="1.75" stroke-linejoin="round"/>
<line x1="485.41" x2="485.41" y1="413" y2="496.7" stroke="#3f3f3f" stroke-width="2.4"/>
<line x1="485.41" x2="485.41" y1="455.0" y2="483.3" stroke="#3f3f3f" stroke-width="7.2"/>
<line x1="482.31" x2="488.51" y1="467.3" y2="467.3" stroke="#f4f4f4" stroke-width="1.5"/>
<line x1="551.33" x2="551.33" y1="390.95" y2="420.20" stroke="#3f3f3f" stroke-width="1.9"/>
<path d="M550.97,505.90 551.33,505.95 551.68,505.90 551.95,505.54 552.23,504.77 552.51,504.27 552.70,504.04 553.40,503.45 554.24,502.95 560.84,499.91 566.46,497.41 571.63,494.92 573.42,493.95 574.45,493.25 576.45,491.58 576.95,490.99 577.07,490.69 576.99,489.83 576.81,488.98 576.54,488.62 575.95,488.18 573.12,486.46 569.82,484.72 568.42,483.87 565.93,481.74 565.34,480.99 565.01,480.27 564.96,479.99 564.96,479.51 565.16,479.12 565.71,478.72 566.64,478.28 567.24,477.65 567.70,476.98 568.79,475.16 570.32,473.19 570.76,472.53 571.25,471.40 571.77,469.75 571.94,468.65 571.91,467.83 571.69,466.97 571.04,465.36 570.80,464.89 570.36,464.22 567.30,460.51 561.47,453.77 559.88,451.65 558.54,449.40 557.50,447.35 556.74,445.46 556.10,443.40 555.19,439.60 554.31,434.56 553.92,431.26 553.60,426.78 553.40,424.84 553.14,423.66 552.30,420.69 552.01,418.78 551.72,415.50 551.45,410.95 551.45,391.88 551.33,391.85 551.20,391.88 551.20,410.95 550.93,415.50 550.64,418.78 550.35,420.69 549.51,423.66 549.25,424.84 549.05,426.78 548.73,431.26 548.34,434.56 547.46,439.60 546.55,443.40 545.91,445.46 545.15,447.35 544.11,449.40 542.77,451.65 541.18,453.77 535.35,460.51 532.29,464.22 531.85,464.89 531.61,465.36 530.96,466.97 530.74,467.83 530.71,468.65 530.88,469.75 531.40,471.40 531.89,472.53 532.33,473.19 533.86,475.16 534.95,476.98 535.41,477.65 536.01,478.28 536.94,478.72 537.49,479.12 537.69,479.51 537.69,479.99 537.64,480.27 537.31,480.99 536.72,481.74 534.23,483.87 532.83,484.72 529.53,486.46 526.70,488.18 526.11,488.62 525.84,488.98 525.66,489.83 525.58,490.69 525.70,490.99 526.20,491.58 528.20,493.25 529.23,493.95 531.02,494.92 536.19,497.41 541.81,499.91 548.32,502.91 549.25,503.45 549.95,504.04 550.14,504.27 550.49,504.92 550.70,505.54Z" fill="#7f7f7f" stroke="#3f3f3f" stroke-width="1.75" stroke-linejoin="round"/>
<line x1="551.33" x2="551.33" y1="411.5" y2="497.0" stroke="#3f3f3f" stroke-width="2.4"/>
<line x1="551.33" x2="551.33" y1="459.7" y2="492.3" stroke="#3f3f3f" stroke-width="7.2"/>
<line x1="548.23" x2="554.43" y1="473.1" y2="473.1" stroke="#f4f4f4" stroke-width="1.5"/>
<line x1="617.24" x2="617.24" y1="399.62" y2="424.12" stroke="#3f3f3f" stroke-width="1.9"/>
<path d="M617.24,400.52 617.11,400.55 617.11,417.37 616.38,424.44 615.99,430.95 615.72,433.98 615.35,436.98 614.92,439.52 614.32,441.84 613.53,444.15 612.73,446.06 611.68,447.88 610.02,450.18 607.96,452.68 606.15,454.51 602.64,457.78 598.03,461.78 594.65,464.53 593.90,465.23 593.06,466.18 592.11,467.37 591.58,468.24 591.12,469.58 591.01,470.33 591.09,470.89 591.43,471.72 592.43,473.34 593.03,473.98 594.18,474.92 596.25,476.39 601.74,479.67 602.58,480.34 603.06,481.03 603.16,481.48 603.16,481.80 603.05,482.30 602.72,483.01 602.08,483.90 600.61,485.54 598.00,487.75 596.97,488.91 596.71,489.28 596.64,489.49 596.68,489.92 596.89,490.50 597.36,491.34 597.72,491.70 598.31,492.13 601.82,494.08 607.56,496.58 611.24,498.33 613.12,499.35 615.37,500.90 616.39,501.77 617.00,502.44 617.11,502.87 617.11,503.50 617.24,503.50 617.36,503.50 617.36,502.87 617.47,502.44 618.08,501.77 619.10,500.90 621.35,499.35 623.23,498.33 626.91,496.58 632.65,494.08 636.16,492.13 636.75,491.70 637.11,491.34 637.58,490.50 637.79,489.92 637.83,489.49 637.76,489.28 637.50,488.91 636.47,487.75 633.86,485.54 632.39,483.90 631.75,483.01 631.42,482.30 631.31,481.80 631.31,481.48 631.41,481.03 631.89,480.34 632.73,479.67 638.22,476.39 640.29,474.92 641.44,473.98 642.04,473.34 643.04,471.72 643.38,470.89 643.46,470.33 643.35,469.58 642.89,468.24 642.36,467.37 641.41,466.18 640.57,465.23 639.82,464.53 636.44,461.78 631.83,457.78 628.32,454.51 626.51,452.68 624.45,450.18 622.79,447.88 621.74,446.06 620.94,444.15 620.15,441.84 619.55,439.52 619.12,436.98 618.75,433.98 618.48,430.95 618.09,424.44 617.36,417.37 617.36,400.55Z" fill="#a9aa35" stroke="#3f3f3f" stroke-width="1.75" stroke-linejoin="round"/>
<line x1="617.24" x2="617.24" y1="418" y2="496.7" stroke="#3f3f3f" stroke-width="2.4"/>
<line x1="617.24" x2="617.24" y1="461.0" y2="488.8" stroke="#3f3f3f" stroke-width="7.2"/>
<line x1="614.13" x2="620.34" y1="472.2" y2="472.2" stroke="#f4f4f4" stroke-width="1.5"/>
<line x1="683.14" x2="683.14" y1="385.70" y2="415.45" stroke="#3f3f3f" stroke-width="1.9"/>
<path d="M683.14,386.60 683.02,386.63 683.02,406.45 682.60,413.01 682.24,415.61 681.56,419.22 680.51,423.14 680.34,424.07 680.21,425.29 679.93,426.42 679.20,428.11 677.11,432.11 670.46,443.91 663.71,454.91 659.90,460.45 658.23,462.69 657.81,463.37 657.52,464.00 656.93,465.69 656.78,466.34 656.72,467.01 656.79,468.10 657.04,469.51 657.54,471.41 657.81,472.04 658.40,472.95 660.15,475.25 661.44,477.43 662.20,478.26 662.84,478.65 663.07,479.03 663.10,479.25 662.93,480.14 662.82,480.42 662.11,481.51 660.43,483.51 658.57,485.27 658.24,485.78 658.22,488.61 658.33,488.93 658.66,489.32 659.50,489.99 663.18,492.45 668.38,495.18 673.91,498.18 679.96,501.69 681.04,502.50 681.61,503.12 681.98,503.83 682.30,504.82 682.48,505.10 683.14,505.25 683.81,505.10 683.99,504.82 684.31,503.83 684.68,503.12 685.25,502.50 686.33,501.69 692.38,498.18 697.91,495.18 703.11,492.45 706.79,489.99 707.63,489.32 707.96,488.93 708.07,488.61 708.05,485.78 707.72,485.27 705.86,483.51 704.18,481.51 703.47,480.42 703.36,480.14 703.19,479.25 703.22,479.03 703.45,478.65 704.09,478.26 704.85,477.43 706.14,475.25 707.89,472.95 708.48,472.04 708.75,471.41 709.25,469.51 709.50,468.10 709.57,467.01 709.51,466.34 709.36,465.69 708.77,464.00 708.48,463.37 708.06,462.69 706.39,460.45 702.58,454.91 695.83,443.91 689.18,432.11 687.09,428.11 686.36,426.42 686.08,425.29 685.95,424.07 685.78,423.14 684.73,419.22 684.05,415.61 683.69,413.01 683.27,406.45 683.27,386.63Z" fill="#2eabb8" stroke="#3f3f3f" stroke-width="1.75" stroke-linejoin="round"/>
<line x1="683.14" x2="683.14" y1="405" y2="496.4" stroke="#3f3f3f" stroke-width="2.4"/>
<line x1="683.14" x2="683.14" y1="452.3" y2="487.9" stroke="#3f3f3f" stroke-width="7.2"/>
<line x1="680.04" x2="686.25" y1="469.0" y2="469.0" stroke="#f4f4f4" stroke-width="1.5"/>
<line x1="122.91" x2="122.91" y1="292.35" y2="516.85" stroke="#000" stroke-width="2" stroke-dasharray="7 3.4"/>
<line x1="254.73" x2="254.73" y1="292.35" y2="516.85" stroke="#000" stroke-width="2" stroke-dasharray="7 3.4"/>
<line x1="386.55" x2="386.55" y1="292.35" y2="516.85" stroke="#000" stroke-width="2" stroke-dasharray="7 3.4"/>
<line x1="584.28" x2="584.28" y1="292.35" y2="516.85" stroke="#000" stroke-width="2" stroke-dasharray="7 3.4"/>
</g>
<rect x="57.0" y="293.05" width="659.10" height="223.80" fill="none" stroke="#3c3c3c" stroke-width="1.4"/>
<line x1="52.4" x2="57.0" y1="465.90" y2="465.90" stroke="#3c3c3c" stroke-width="1.4"/>
<text x="47.7" y="472.80" font-size="18" text-anchor="end">5</text>
<line x1="52.4" x2="57.0" y1="402.95" y2="402.95" stroke="#3c3c3c" stroke-width="1.4"/>
<text x="47.7" y="409.85" font-size="18" text-anchor="end">10</text>
<line x1="52.4" x2="57.0" y1="340.00" y2="340.00" stroke="#3c3c3c" stroke-width="1.4"/>
<text x="47.7" y="346.90" font-size="18" text-anchor="end">15</text>
<text x="385.85" y="284.95" font-size="15.7" text-anchor="middle">Distance Distributions of Y150(N)-A292(O)</text>
<text transform="translate(16.2,404.95) rotate(-90)" font-size="14.25" text-anchor="middle">Distance (Å)</text>
</g>
<g>
<clipPath id="c2"><rect x="57.0" y="563.3" width="659.10" height="223.80"/></clipPath>
<g clip-path="url(#c2)">
<line x1="89.95" x2="89.95" y1="650.00" y2="715.75" stroke="#3f3f3f" stroke-width="1.9"/>
<path d="M63.97,753.55 64.24,753.80 65.73,754.73 66.72,755.19 68.05,755.67 72.70,757.17 79.17,759.17 82.81,760.42 85.37,761.44 87.95,762.78 89.57,763.91 89.77,764.27 89.80,764.51 89.95,764.54 90.11,764.51 90.14,764.27 90.34,763.91 91.96,762.78 94.54,761.44 97.10,760.42 100.74,759.17 107.21,757.17 111.86,755.67 113.19,755.19 114.18,754.73 115.67,753.80 115.94,753.55 115.56,753.19 114.48,752.50 112.28,751.29 109.89,750.32 100.59,747.08 98.73,746.28 96.72,745.28 95.34,744.40 93.95,743.15 93.08,742.16 92.62,741.22 92.58,739.88 92.88,737.77 93.12,736.74 93.95,734.04 94.33,731.91 94.38,730.53 94.05,727.64 93.66,725.70 92.87,722.76 91.65,719.21 90.97,716.46 90.64,714.33 90.31,710.78 90.18,707.52 90.08,701.50 90.08,650.93 89.95,650.90 89.83,650.93 89.83,701.50 89.73,707.52 89.60,710.78 89.27,714.33 88.94,716.46 88.26,719.21 87.04,722.76 86.25,725.70 85.86,727.64 85.53,730.53 85.58,731.91 85.96,734.04 86.79,736.74 87.03,737.77 87.33,739.88 87.29,741.22 86.83,742.16 85.96,743.15 84.57,744.40 83.19,745.28 81.18,746.28 79.32,747.08 70.02,750.32 67.63,751.29 65.43,752.50 64.35,753.19Z" fill="#3274a1" stroke="#3f3f3f" stroke-width="1.75" stroke-linejoin="round"/>
<line x1="89.95" x2="89.95" y1="728.65" y2="759.2" stroke="#3f3f3f" stroke-width="2.4"/>
<line x1="89.95" x2="89.95" y1="745.5" y2="758.2" stroke="#3f3f3f" stroke-width="7.2"/>
<line x1="86.86" x2="93.05" y1="752.9" y2="752.9" stroke="#f4f4f4" stroke-width="1.5"/>
<line x1="155.87" x2="155.87" y1="626.09" y2="662.09" stroke="#3f3f3f" stroke-width="1.9"/>
<path d="M155.53,769.84 155.87,769.91 156.20,769.84 156.80,769.24 158.16,767.54 158.97,766.69 160.42,765.38 162.21,764.08 164.41,762.81 167.53,761.22 174.06,758.30 177.76,756.33 178.92,755.62 179.51,755.18 179.93,754.75 180.84,753.61 181.13,753.05 181.18,752.83 181.08,752.26 180.87,751.79 180.38,751.15 179.09,749.70 176.96,747.73 176.13,746.84 175.08,745.34 174.60,744.53 174.27,743.62 174.20,742.88 174.38,741.90 174.61,741.28 175.40,740.09 177.60,737.74 180.00,735.49 180.55,734.82 181.77,732.94 181.99,732.37 182.04,732.05 181.96,731.84 180.91,730.57 179.14,727.88 178.33,726.98 177.47,726.30 174.45,724.30 169.91,721.05 168.62,719.92 166.78,717.93 165.42,716.11 164.38,714.16 163.37,711.59 162.47,708.53 161.59,704.48 160.71,699.20 160.33,696.18 159.73,690.09 158.85,682.70 158.02,676.47 157.37,672.74 157.17,671.13 157.13,669.99 157.19,666.13 156.58,660.88 155.99,648.63 155.99,627.02 155.87,626.99 155.74,627.02 155.74,648.63 155.15,660.88 154.54,666.13 154.60,669.99 154.56,671.13 154.36,672.74 153.71,676.47 152.88,682.70 152.00,690.09 151.40,696.18 151.02,699.20 150.14,704.48 149.26,708.53 148.36,711.59 147.35,714.16 146.31,716.11 144.95,717.93 143.11,719.92 141.82,721.05 137.28,724.30 134.26,726.30 133.40,726.98 132.59,727.88 130.82,730.57 129.77,731.84 129.69,732.05 129.74,732.37 129.96,732.94 131.18,734.82 131.73,735.49 134.13,737.74 136.33,740.09 137.12,741.28 137.35,741.90 137.53,742.88 137.46,743.62 137.13,744.53 136.65,745.34 135.60,746.84 134.77,747.73 132.64,749.70 131.35,751.15 130.86,751.79 130.65,752.26 130.55,752.83 130.60,753.05 130.89,753.61 131.80,754.75 132.22,755.18 132.81,755.62 133.97,756.33 137.67,758.30 144.20,761.22 147.32,762.81 149.60,764.13 151.31,765.38 152.76,766.69 153.57,767.54 154.93,769.24Z" fill="#e1812c" stroke="#3f3f3f" stroke-width="1.75" stroke-linejoin="round"/>
<line x1="155.87" x2="155.87" y1="685.5" y2="758.7" stroke="#3f3f3f" stroke-width="2.4"/>
<line x1="155.87" x2="155.87" y1="722.7" y2="755.3" stroke="#3f3f3f" stroke-width="7.2"/>
<line x1="152.77" x2="158.97" y1="734.3" y2="734.3" stroke="#f4f4f4" stroke-width="1.5"/>
<line x1="221.77" x2="221.77" y1="584.22" y2="659.97" stroke="#3f3f3f" stroke-width="1.9"/>
<path d="M221.77,585.12 221.65,585.15 221.65,627.98 221.30,653.23 220.83,663.25 220.74,666.94 220.79,667.54 221.34,669.19 221.44,670.54 221.32,672.10 220.70,676.33 220.08,682.04 219.54,694.04 219.28,697.04 218.81,699.81 218.54,707.55 218.33,709.84 218.02,712.09 217.69,713.88 217.14,715.59 216.31,717.39 214.93,719.89 213.65,721.77 211.47,724.51 208.64,728.22 207.87,729.41 207.01,731.09 206.49,732.28 206.12,733.43 205.52,737.11 205.13,738.75 204.55,740.50 203.84,742.08 202.87,743.52 198.79,748.52 197.43,750.05 196.10,751.29 195.62,752.28 195.51,752.65 195.47,752.97 195.56,753.43 195.98,754.25 196.81,755.37 197.58,756.02 198.67,756.72 201.64,758.45 207.27,761.20 211.54,763.45 213.77,764.75 216.33,766.50 217.93,767.79 219.00,768.92 220.80,771.10 221.16,771.40 221.77,771.51 222.39,771.40 222.75,771.10 224.55,768.92 225.62,767.79 227.22,766.50 229.78,764.75 232.01,763.45 236.28,761.20 241.91,758.45 244.88,756.72 245.97,756.02 246.74,755.37 247.57,754.25 247.99,753.43 248.08,752.97 248.04,752.65 247.93,752.28 247.45,751.29 246.12,750.05 244.76,748.52 240.68,743.52 239.71,742.08 239.00,740.50 238.42,738.75 238.03,737.11 237.43,733.43 237.06,732.28 236.54,731.09 235.68,729.41 234.91,728.22 232.08,724.51 229.90,721.77 228.62,719.89 227.24,717.39 226.41,715.59 225.86,713.88 225.53,712.09 225.22,709.84 225.01,707.55 224.74,699.81 224.27,697.04 224.01,694.04 223.47,682.04 222.85,676.33 222.23,672.10 222.11,670.54 222.21,669.19 222.76,667.54 222.81,666.94 222.72,663.25 222.25,653.23 221.90,627.98 221.90,585.15Z" fill="#3a923a" stroke="#3f3f3f" stroke-width="1.75" stroke-linejoin="round"/>
<line x1="221.77" x2="221.77" y1="694.0" y2="759.0" stroke="#3f3f3f" stroke-width="2.4"/>
<line x1="221.77" x2="221.77" y1="727.0" y2="756.0" stroke="#3f3f3f" stroke-width="7.2"/>
<line x1="218.67" x2="224.87" y1="745.0" y2="745.0" stroke="#f4f4f4" stroke-width="1.5"/>
<line x1="287.69" x2="287.69" y1="612.50" y2="687.75" stroke="#3f3f3f" stroke-width="1.9"/>
<path d="M261.94,753.79 262.05,754.08 262.65,754.93 263.61,755.87 264.53,756.49 265.47,756.95 267.22,757.69 283.79,764.23 284.86,764.80 285.50,765.32 285.92,765.86 286.26,766.56 286.50,766.93 286.66,767.07 286.96,767.19 287.25,767.39 287.69,767.39 288.12,767.39 288.41,767.19 288.71,767.07 288.87,766.93 289.11,766.56 289.45,765.86 289.87,765.32 290.51,764.80 291.58,764.23 308.15,757.69 309.90,756.95 310.84,756.49 311.76,755.87 312.72,754.93 313.32,754.08 313.43,753.79 312.60,753.27 308.72,751.28 304.57,749.28 300.17,747.03 298.85,746.25 297.97,745.55 297.17,744.55 296.50,743.45 296.18,742.50 296.15,742.23 296.21,741.46 296.40,741.01 297.00,740.14 298.70,738.39 301.18,736.35 301.63,735.91 301.96,735.50 302.68,734.33 303.10,733.45 303.25,732.89 303.25,732.32 303.02,730.88 302.76,730.11 302.25,729.22 301.26,727.79 300.44,726.86 297.78,724.35 295.40,721.85 294.02,720.24 293.23,719.08 292.03,716.84 291.20,714.84 290.69,712.90 290.22,710.10 289.50,704.10 289.12,699.83 288.53,689.05 288.21,681.52 287.81,667.25 287.81,613.43 287.69,613.40 287.56,613.43 287.56,667.25 287.16,681.52 286.84,689.05 286.25,699.83 285.87,704.10 285.15,710.10 284.68,712.90 284.17,714.84 283.34,716.84 282.14,719.08 281.35,720.24 279.97,721.85 277.59,724.35 274.93,726.86 274.11,727.79 273.12,729.22 272.61,730.11 272.35,730.88 272.12,732.32 272.12,732.89 272.27,733.45 272.69,734.33 273.41,735.50 273.74,735.91 274.19,736.35 276.67,738.39 278.37,740.14 278.97,741.01 279.16,741.46 279.22,742.23 279.19,742.50 278.87,743.45 278.20,744.55 277.40,745.55 276.52,746.25 275.20,747.03 270.80,749.28 266.65,751.28 262.77,753.27Z" fill="#c03d3e" stroke="#3f3f3f" stroke-width="1.75" stroke-linejoin="round"/>
<line x1="287.69" x2="287.69" y1="686" y2="758.5" stroke="#3f3f3f" stroke-width="2.4"/>
<line x1="287.69" x2="287.69" y1="728.0" y2="757.2" stroke="#3f3f3f" stroke-width="7.2"/>
<line x1="284.58" x2="290.79" y1="747.2" y2="747.2" stroke="#f4f4f4" stroke-width="1.5"/>
<line x1="353.59" x2="353.59" y1="577.33" y2="646.58" stroke="#3f3f3f" stroke-width="1.9"/>
<path d="M353.59,578.23 353.47,578.26 353.47,618.10 352.90,643.85 352.69,656.59 352.53,662.11 352.32,665.17 351.79,670.17 351.16,674.20 350.98,675.65 350.94,676.60 350.95,680.51 350.77,681.34 350.40,682.54 350.29,683.14 350.35,684.76 350.85,689.05 350.88,690.12 350.82,691.37 349.81,698.93 349.21,705.16 348.90,707.45 348.21,710.35 347.70,711.90 347.08,713.48 346.52,714.55 345.88,715.55 344.04,717.92 342.83,719.24 341.06,720.77 336.81,724.03 330.13,729.02 329.27,729.73 328.61,730.40 327.58,731.79 327.29,732.36 327.23,732.71 327.29,733.45 327.43,734.09 328.08,735.92 328.52,736.53 330.09,738.24 330.87,739.39 331.45,740.39 331.97,741.44 332.28,742.29 332.55,743.37 332.80,744.85 332.73,746.08 332.47,746.93 331.74,748.64 331.09,750.74 331.02,751.34 331.06,751.66 331.24,752.26 331.68,753.16 332.06,753.79 332.68,754.43 333.91,755.38 336.69,757.36 341.30,760.37 345.83,763.66 347.36,764.95 348.95,766.48 350.44,768.07 351.59,769.51 352.23,770.18 352.98,770.77 353.59,770.90 354.21,770.77 354.96,770.18 355.60,769.51 356.75,768.07 358.24,766.48 359.83,764.95 361.36,763.66 365.89,760.37 370.50,757.36 373.28,755.38 374.51,754.43 375.13,753.79 375.51,753.16 375.95,752.26 376.13,751.66 376.17,751.34 376.10,750.74 375.45,748.64 374.72,746.93 374.46,746.08 374.39,744.85 374.64,743.37 374.91,742.29 375.22,741.44 375.74,740.39 376.32,739.39 377.10,738.24 378.67,736.53 379.11,735.92 379.76,734.09 379.90,733.45 379.96,732.71 379.90,732.36 379.61,731.79 378.58,730.40 377.92,729.73 377.06,729.02 370.38,724.03 366.13,720.77 364.36,719.24 363.15,717.92 361.31,715.55 360.67,714.55 360.11,713.48 359.49,711.90 358.98,710.35 358.29,707.45 357.98,705.16 357.38,698.93 356.37,691.37 356.31,690.12 356.34,689.05 356.84,684.76 356.90,683.14 356.79,682.54 356.42,681.34 356.24,680.51 356.25,676.60 356.21,675.65 356.03,674.20 355.40,670.17 354.87,665.17 354.66,662.11 354.50,656.59 354.29,643.85 353.72,618.10 353.72,578.26Z" fill="#9372b2" stroke="#3f3f3f" stroke-width="1.75" stroke-linejoin="round"/>
<line x1="353.59" x2="353.59" y1="690" y2="758.3" stroke="#3f3f3f" stroke-width="2.4"/>
<line x1="353.59" x2="353.59" y1="724.0" y2="754.3" stroke="#3f3f3f" stroke-width="7.2"/>
<line x1="350.49" x2="356.69" y1="735.0" y2="735.0" stroke="#f4f4f4" stroke-width="1.5"/>
<line x1="419.50" x2="419.50" y1="619.10" y2="678.10" stroke="#3f3f3f" stroke-width="1.9"/>
<path d="M403.93,753.78 405.41,754.70 408.21,757.18 409.10,757.89 410.19,758.61 413.53,760.60 416.70,762.95 417.52,763.70 418.20,764.56 418.53,765.25 418.87,766.54 419.03,766.87 419.13,766.99 419.88,766.99 420.14,766.54 420.43,765.39 420.81,764.56 421.49,763.70 422.31,762.95 425.48,760.60 428.82,758.61 429.91,757.89 430.80,757.18 433.60,754.70 435.08,753.78 433.55,751.94 431.52,749.85 430.99,749.09 430.09,747.41 429.67,746.26 429.58,745.76 429.57,745.09 429.62,744.81 429.88,744.06 430.50,743.10 432.29,741.24 433.50,740.38 441.91,736.08 443.57,735.13 445.02,733.95 445.71,733.28 445.93,732.97 445.99,732.75 445.91,732.27 445.83,732.11 445.49,731.76 444.90,731.32 441.81,729.36 437.16,726.86 431.97,723.86 430.23,722.70 427.38,720.55 425.97,719.24 424.73,717.55 424.13,716.55 423.59,715.49 423.16,714.42 422.90,713.52 422.26,710.20 421.88,706.64 421.54,699.90 421.12,694.37 420.92,685.15 420.32,678.40 419.88,671.15 419.63,664.63 419.63,620.03 419.50,620.00 419.38,620.03 419.38,664.63 419.13,671.15 418.69,678.40 418.09,685.15 417.89,694.37 417.47,699.90 417.13,706.64 416.75,710.20 416.11,713.52 415.85,714.42 415.42,715.49 414.88,716.55 414.28,717.55 413.04,719.24 411.63,720.55 408.78,722.70 407.04,723.86 401.85,726.86 397.20,729.36 394.11,731.32 393.52,731.76 393.18,732.11 393.10,732.27 393.02,732.75 393.08,732.97 393.30,733.28 393.99,733.95 395.44,735.13 397.10,736.08 405.51,740.38 406.72,741.24 408.42,742.99 409.02,743.85 409.39,744.81 409.44,745.09 409.45,745.59 409.30,746.41 408.87,747.52 408.02,749.09 407.49,749.85 405.46,751.94Z" fill="#845b53" stroke="#3f3f3f" stroke-width="1.75" stroke-linejoin="round"/>
<line x1="419.50" x2="419.50" y1="690" y2="758.5" stroke="#3f3f3f" stroke-width="2.4"/>
<line x1="419.50" x2="419.50" y1="726.3" y2="751.7" stroke="#3f3f3f" stroke-width="7.2"/>
<line x1="416.40" x2="422.61" y1="734.0" y2="734.0" stroke="#f4f4f4" stroke-width="1.5"/>
<line x1="485.41" x2="485.41" y1="572.70" y2="606.45" stroke="#3f3f3f" stroke-width="1.9"/>
<path d="M485.03,776.88 485.41,776.92 485.80,776.88 486.36,776.41 486.92,775.52 488.08,773.23 489.68,770.73 491.48,768.37 493.71,765.87 495.88,763.79 504.05,756.80 506.86,754.09 508.42,752.39 508.94,751.70 509.85,750.26 510.50,749.06 510.92,748.12 511.25,747.19 511.78,745.25 512.00,744.09 512.05,743.32 511.92,740.09 511.20,738.73 509.93,735.02 509.18,733.35 508.09,731.41 506.65,729.22 500.61,721.71 499.87,720.68 498.05,717.88 497.31,716.55 496.72,715.21 495.96,712.71 495.54,710.79 495.38,709.22 495.25,703.23 495.03,698.50 494.75,694.53 494.42,691.31 494.03,688.88 492.68,683.61 491.46,676.89 491.15,675.69 490.30,672.96 489.95,671.39 489.83,670.02 490.12,667.90 490.06,666.02 489.79,663.83 488.79,657.84 488.28,652.25 487.95,646.71 487.80,632.72 487.37,621.49 486.82,612.52 485.96,603.53 485.55,597.26 485.54,573.63 485.41,573.60 485.29,573.63 485.28,597.26 484.87,603.53 484.01,612.52 483.46,621.49 483.03,632.72 482.88,646.71 482.55,652.25 482.04,657.84 481.04,663.83 480.77,666.02 480.71,667.90 481.00,670.02 480.88,671.39 480.53,672.96 479.68,675.69 479.37,676.89 478.15,683.61 476.80,688.88 476.41,691.31 476.08,694.53 475.80,698.50 475.58,703.23 475.45,709.22 475.29,710.79 474.87,712.71 474.11,715.21 473.52,716.55 472.78,717.88 470.96,720.68 470.22,721.71 464.18,729.22 462.74,731.41 461.65,733.35 460.90,735.02 459.63,738.73 458.91,740.09 458.78,743.32 458.83,744.09 459.05,745.25 459.58,747.19 459.91,748.12 460.33,749.06 460.98,750.26 461.89,751.70 462.41,752.39 463.97,754.09 466.78,756.80 474.95,763.79 477.12,765.87 479.35,768.37 481.11,770.67 482.75,773.23 483.91,775.52 484.47,776.41Z" fill="#d684bd" stroke="#3f3f3f" stroke-width="1.75" stroke-linejoin="round"/>
<line x1="485.41" x2="485.41" y1="634.7" y2="758.0" stroke="#3f3f3f" stroke-width="2.4"/>
<line x1="485.41" x2="485.41" y1="701.0" y2="752.3" stroke="#3f3f3f" stroke-width="7.2"/>
<line x1="482.31" x2="488.51" y1="732.8" y2="732.8" stroke="#f4f4f4" stroke-width="1.5"/>
<line x1="551.33" x2="551.33" y1="607.60" y2="673.10" stroke="#3f3f3f" stroke-width="1.9"/>
<path d="M524.63,753.95 524.85,754.17 527.41,755.85 528.67,756.58 534.11,759.31 546.72,765.08 547.71,765.63 548.76,766.37 549.21,766.84 549.87,767.74 550.31,768.10 550.62,768.26 551.33,768.39 552.03,768.26 552.34,768.10 552.78,767.74 553.44,766.84 553.89,766.37 554.94,765.63 555.93,765.08 568.54,759.31 573.98,756.58 575.24,755.85 577.80,754.17 578.02,753.95 577.43,753.16 577.04,752.72 576.27,752.03 573.35,749.82 570.30,747.83 569.29,747.04 568.31,745.92 567.54,744.87 567.07,744.02 566.85,743.37 566.76,742.68 566.78,742.41 567.01,741.47 567.42,740.64 568.18,739.39 568.87,738.55 570.84,736.54 571.98,734.89 572.46,734.01 572.61,733.47 572.62,733.15 572.48,732.07 572.27,731.51 571.49,730.39 570.46,729.20 570.01,728.75 569.13,728.04 561.92,722.81 559.24,720.52 557.90,719.23 556.75,717.77 555.66,715.77 554.93,713.92 554.53,712.23 554.18,709.94 553.80,706.44 552.94,695.92 552.90,693.83 553.02,687.35 553.00,684.89 552.01,671.38 551.45,657.13 551.45,608.53 551.33,608.50 551.20,608.53 551.20,657.13 550.64,671.38 549.65,684.89 549.63,687.35 549.75,693.83 549.71,695.92 548.85,706.44 548.47,709.94 548.12,712.23 547.72,713.92 546.99,715.77 545.90,717.77 544.75,719.23 543.41,720.52 540.73,722.81 533.52,728.04 532.64,728.75 532.19,729.20 531.16,730.39 530.38,731.51 530.17,732.07 530.03,733.15 530.04,733.47 530.19,734.01 530.67,734.89 531.81,736.54 533.78,738.55 534.47,739.39 535.23,740.64 535.64,741.47 535.87,742.41 535.89,742.68 535.80,743.37 535.58,744.02 535.11,744.87 534.34,745.92 533.36,747.04 532.35,747.83 529.30,749.82 526.38,752.03 525.61,752.72 525.22,753.16Z" fill="#7f7f7f" stroke="#3f3f3f" stroke-width="1.75" stroke-linejoin="round"/>
<line x1="551.33" x2="551.33" y1="690" y2="758.2" stroke="#3f3f3f" stroke-width="2.4"/>
<line x1="551.33" x2="551.33" y1="727.3" y2="756.1" stroke="#3f3f3f" stroke-width="7.2"/>
<line x1="548.23" x2="554.43" y1="739.5" y2="739.5" stroke="#f4f4f4" stroke-width="1.5"/>
<line x1="617.24" x2="617.24" y1="594.70" y2="685.70" stroke="#3f3f3f" stroke-width="1.9"/>
<path d="M597.95,753.74 598.44,754.35 598.70,754.98 598.94,755.87 599.15,756.25 599.71,756.69 601.14,757.41 605.22,759.14 609.83,760.91 613.55,762.66 614.93,763.44 615.69,764.00 616.26,764.64 616.69,765.42 616.91,765.65 617.24,765.69 617.56,765.65 617.78,765.42 618.21,764.64 618.78,764.00 619.54,763.44 620.86,762.69 624.70,760.88 629.25,759.14 633.33,757.41 634.76,756.69 635.32,756.25 635.53,755.87 635.77,754.98 636.03,754.35 636.52,753.74 635.27,752.89 632.31,750.60 631.11,749.51 629.87,748.01 629.14,746.94 628.79,746.12 628.69,745.62 628.68,745.34 628.85,744.34 629.26,743.47 629.79,742.67 630.37,741.92 631.06,741.29 632.82,740.18 636.47,738.18 639.92,736.43 641.12,735.73 642.60,734.54 643.32,733.86 643.64,733.38 643.55,733.08 643.15,732.50 642.78,732.10 641.88,731.42 638.74,729.46 634.13,726.96 628.92,723.96 627.02,722.70 623.95,720.40 622.59,719.07 621.62,717.61 621.06,716.55 620.60,715.48 620.26,714.48 620.01,713.47 619.70,711.55 619.42,709.03 618.92,703.53 618.56,698.24 618.21,691.23 617.52,672.73 617.36,666.22 617.36,595.63 617.24,595.60 617.11,595.63 617.11,666.22 616.95,672.73 616.26,691.23 615.91,698.24 615.55,703.53 615.05,709.03 614.77,711.55 614.46,713.47 614.23,714.41 613.87,715.48 613.41,716.55 612.81,717.68 612.00,718.93 610.61,720.32 607.45,722.70 605.55,723.96 600.34,726.96 595.73,729.46 592.59,731.42 591.69,732.10 591.32,732.50 590.92,733.08 590.83,733.42 591.15,733.86 591.87,734.54 593.35,735.73 594.55,736.43 598.00,738.18 601.65,740.18 603.41,741.29 604.10,741.92 604.68,742.67 605.21,743.47 605.62,744.34 605.79,745.34 605.78,745.62 605.68,746.12 605.33,746.94 604.60,748.01 603.36,749.51 602.16,750.60 599.20,752.89Z" fill="#a9aa35" stroke="#3f3f3f" stroke-width="1.75" stroke-linejoin="round"/>
<line x1="617.24" x2="617.24" y1="690" y2="758.2" stroke="#3f3f3f" stroke-width="2.4"/>
<line x1="617.24" x2="617.24" y1="727.3" y2="754.1" stroke="#3f3f3f" stroke-width="7.2"/>
<line x1="614.13" x2="620.34" y1="735.9" y2="735.9" stroke="#f4f4f4" stroke-width="1.5"/>
<line x1="683.14" x2="683.14" y1="607.10" y2="687.60" stroke="#3f3f3f" stroke-width="1.9"/>
<path d="M656.87,753.83 659.45,755.89 660.52,756.60 661.38,757.06 662.46,757.54 664.38,758.28 675.79,762.27 678.84,763.54 680.98,764.56 681.87,765.10 682.58,765.67 682.73,765.82 682.95,766.25 683.00,766.42 683.02,766.77 683.14,766.77 683.27,766.77 683.29,766.42 683.34,766.25 683.56,765.82 683.71,765.67 684.42,765.10 685.31,764.56 687.45,763.54 690.50,762.27 701.91,758.28 703.83,757.54 704.91,757.06 705.77,756.60 706.84,755.89 709.42,753.83 708.67,752.95 707.68,752.01 705.88,750.56 702.81,748.56 702.12,748.06 701.49,747.50 700.58,746.41 700.02,745.59 699.72,744.95 699.58,744.27 699.58,743.98 699.79,742.96 700.14,742.29 700.55,741.79 701.23,741.16 703.14,739.66 706.79,737.61 707.73,736.95 708.49,736.06 709.15,735.15 709.44,734.56 709.55,734.03 709.46,733.71 709.24,733.37 708.49,732.48 707.68,731.82 704.00,729.61 699.43,727.11 694.17,724.11 692.18,722.79 689.59,720.79 688.35,719.63 687.49,718.45 686.59,716.34 685.93,713.99 685.67,712.44 685.45,710.41 684.71,700.07 684.27,694.90 683.99,689.63 683.69,681.38 683.27,666.37 683.27,608.03 683.14,608.00 683.02,608.03 683.02,666.37 682.60,681.38 682.30,689.63 682.02,694.90 681.58,700.07 680.84,710.41 680.62,712.44 680.36,713.99 679.70,716.34 678.80,718.45 677.94,719.63 676.70,720.79 674.11,722.79 672.12,724.11 666.86,727.11 662.29,729.61 658.61,731.82 657.80,732.48 657.05,733.37 656.83,733.71 656.74,734.03 656.85,734.56 657.14,735.15 657.80,736.06 658.56,736.95 659.50,737.61 663.15,739.66 665.06,741.16 665.74,741.79 666.15,742.29 666.50,742.96 666.71,743.98 666.71,744.27 666.57,744.95 666.27,745.59 665.71,746.41 664.80,747.50 664.17,748.06 663.48,748.56 660.41,750.56 658.61,752.01 657.62,752.95Z" fill="#2eabb8" stroke="#3f3f3f" stroke-width="1.75" stroke-linejoin="round"/>
<line x1="683.14" x2="683.14" y1="691" y2="758.8" stroke="#3f3f3f" stroke-width="2.4"/>
<line x1="683.14" x2="683.14" y1="729.0" y2="755.2" stroke="#3f3f3f" stroke-width="7.2"/>
<line x1="680.04" x2="686.25" y1="738.8" y2="738.8" stroke="#f4f4f4" stroke-width="1.5"/>
<line x1="122.91" x2="122.91" y1="562.60" y2="787.1" stroke="#000" stroke-width="2" stroke-dasharray="7 3.4"/>
<line x1="254.73" x2="254.73" y1="562.60" y2="787.1" stroke="#000" stroke-width="2" stroke-dasharray="7 3.4"/>
<line x1="386.55" x2="386.55" y1="562.60" y2="787.1" stroke="#000" stroke-width="2" stroke-dasharray="7 3.4"/>
<line x1="584.28" x2="584.28" y1="562.60" y2="787.1" stroke="#000" stroke-width="2" stroke-dasharray="7 3.4"/>
</g>
<rect x="57.0" y="563.3" width="659.10" height="223.80" fill="none" stroke="#3c3c3c" stroke-width="1.4"/>
<line x1="52.4" x2="57.0" y1="781.50" y2="781.50" stroke="#3c3c3c" stroke-width="1.4"/>
<text x="47.7" y="788.40" font-size="18" text-anchor="end">0</text>
<line x1="52.4" x2="57.0" y1="736.10" y2="736.10" stroke="#3c3c3c" stroke-width="1.4"/>
<text x="47.7" y="743.00" font-size="18" text-anchor="end">5</text>
<line x1="52.4" x2="57.0" y1="690.70" y2="690.70" stroke="#3c3c3c" stroke-width="1.4"/>
<text x="47.7" y="697.60" font-size="18" text-anchor="end">10</text>
<line x1="52.4" x2="57.0" y1="645.30" y2="645.30" stroke="#3c3c3c" stroke-width="1.4"/>
<text x="47.7" y="652.20" font-size="18" text-anchor="end">15</text>
<line x1="52.4" x2="57.0" y1="599.90" y2="599.90" stroke="#3c3c3c" stroke-width="1.4"/>
<text x="47.7" y="606.80" font-size="18" text-anchor="end">20</text>
<text x="385.85" y="555.20" font-size="15.7" text-anchor="middle">Distance Distributions of N287(ND2)-N314(OD1)</text>
<text transform="translate(16.2,675.20) rotate(-90)" font-size="14.25" text-anchor="middle">Distance (Å)</text>
</g>
<line x1="89.95" x2="89.95" y1="787.1" y2="791.7" stroke="#3c3c3c" stroke-width="1.4"/>
<text x="89.95" y="806.9" font-size="14.3" text-anchor="middle">WT</text>
<line x1="155.87" x2="155.87" y1="787.1" y2="791.7" stroke="#3c3c3c" stroke-width="1.4"/>
<text x="155.87" y="806.9" font-size="14.3" text-anchor="middle">V211A</text>
<line x1="221.77" x2="221.77" y1="787.1" y2="791.7" stroke="#3c3c3c" stroke-width="1.4"/>
<text x="221.77" y="806.9" font-size="14.3" text-anchor="middle">V211G</text>
<line x1="287.69" x2="287.69" y1="787.1" y2="791.7" stroke="#3c3c3c" stroke-width="1.4"/>
<text x="287.69" y="806.9" font-size="14.3" text-anchor="middle">G214A</text>
<line x1="353.59" x2="353.59" y1="787.1" y2="791.7" stroke="#3c3c3c" stroke-width="1.4"/>
<text x="353.59" y="806.9" font-size="14.3" text-anchor="middle">G214R</text>
<line x1="419.50" x2="419.50" y1="787.1" y2="791.7" stroke="#3c3c3c" stroke-width="1.4"/>
<text x="419.50" y="806.9" font-size="14.3" text-anchor="middle">E219A</text>
<line x1="485.41" x2="485.41" y1="787.1" y2="791.7" stroke="#3c3c3c" stroke-width="1.4"/>
<text x="485.41" y="806.9" font-size="14.3" text-anchor="middle">E219G</text>
<line x1="551.33" x2="551.33" y1="787.1" y2="791.7" stroke="#3c3c3c" stroke-width="1.4"/>
<text x="551.33" y="806.9" font-size="14.3" text-anchor="middle">E219K</text>
<line x1="617.24" x2="617.24" y1="787.1" y2="791.7" stroke="#3c3c3c" stroke-width="1.4"/>
<text x="617.24" y="806.9" font-size="14.3" text-anchor="middle">Y221A</text>
<line x1="683.14" x2="683.14" y1="787.1" y2="791.7" stroke="#3c3c3c" stroke-width="1.4"/>
<text x="683.14" y="806.9" font-size="14.3" text-anchor="middle">Y221H</text>
</svg>
</body></html>
